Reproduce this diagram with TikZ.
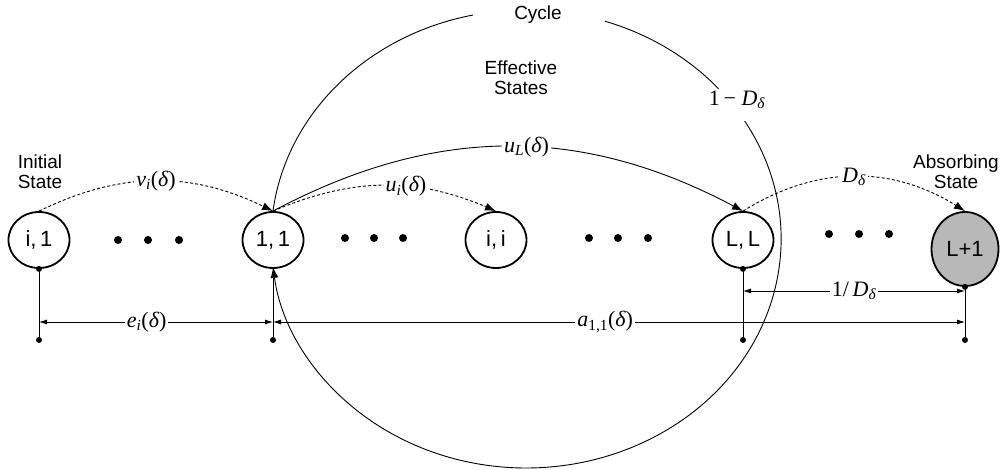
\documentclass[tikz,border=0pt]{standalone}
\usepackage{fontspec}
\setmainfont{Liberation Sans}
\newfontfamily\tms{Liberation Serif}
\usetikzlibrary{arrows.meta,shapes.geometric,calc}
\newcommand\mydel{{\upshape(}δ{\upshape)}}
\begin{document}
\begin{tikzpicture}[x=1pt,y=1pt,
  state/.style={ellipse, draw, line width=1.8pt, minimum width=61pt, minimum height=56pt, inner sep=0pt, font=\fontsize{22}{24}\selectfont},
  conn/.style={line width=0.9pt},
  dashconn/.style={conn, dash pattern=on 3pt off 2.2pt},
  tip/.style={-{Latex[length=11pt,width=8pt]}},
  lbl/.style={font=\fontsize{19}{20}\selectfont, align=center},
  mlbl/.style={font=\tms\itshape\fontsize{22}{24}\selectfont, fill=white, inner sep=2pt},
  bigdot/.style={circle, fill, inner sep=0pt, minimum size=8pt},
  smalldot/.style={circle, fill, inner sep=0pt, minimum size=6pt},
  dim/.style={line width=0.8pt, {Latex[length=8pt,width=5pt]}-{Latex[length=8pt,width=5pt]}},
  vline/.style={line width=0.8pt}
]
\useasboundingbox (0,0) rectangle (1001,470);

% states
\node[state] (i1) at (39,230) {i,\,1};
\node[state] (n11) at (273,230) {1,\,1};
\node[state] (ii) at (496,230) {i,\,i};
\node[state] (LL) at (743,230) {L,\,L};
\node[state, fill=black!28, minimum width=67pt, minimum height=74pt] (L1) at (965,221) {L+1};

% ellipsis dots
\foreach \x [count=\k] in {118,148,179} \node[bigdot] (da\k) at (\x,230) {};
\foreach \x [count=\k] in {345,374,403} \node[bigdot] (db\k) at (\x,232) {};
\foreach \x [count=\k] in {589,618,648} \node[bigdot] (dc\k) at (\x,232) {};
\foreach \x [count=\k] in {829,859,889} \node[bigdot] (dd\k) at (\x,236) {};

% bottom dots and verticals
\node[smalldot] (i1b) at (39,130) {};
\node[smalldot] (n11b) at (273,130) {};
\node[smalldot] (LLb) at (743,130) {};
\node[smalldot] (L1b) at (965,130) {};
\node[smalldot] (i1s) at (i1.south) {};
\node[smalldot] (LLs) at (LL.south) {};
\node[smalldot] (L1s) at (L1.south) {};
\draw[vline] (i1.south) -- (i1b);
\draw[vline] (n11.south) -- (n11b);
\draw[vline] (LL.south) -- (LLb);
\draw[vline] (L1.south) -- (L1b);

% dimension lines
\coordinate (ei1) at (39,148);
\coordinate (ei2) at (273,148);
\coordinate (a2) at (965,148);
\coordinate (dd1) at (743,179);
\coordinate (dd2) at (965,179);
\draw[dim] (ei1) -- node[mlbl, pos=0.46]{e\textsubscript{i}\mydel} (ei2);
\draw[dim] (ei2) -- node[mlbl, pos=0.48]{a\textsubscript{\upshape 1,1}\mydel} (a2);
\draw[dim] (dd1) -- node[mlbl]{{\upshape 1/}\,D\textsubscript{δ}} (dd2);

% cycle loop
\coordinate (C) at ($(n11.north)-(173:255 and 229)$);
\draw[conn] (n11.north) arc[start angle=173, end angle=102, x radius=255, y radius=229];
\draw[conn] ($(C)+(72:255 and 229)$) arc[start angle=72, end angle=41, x radius=255, y radius=229];
\draw[conn, tip] ($(C)+(31:255 and 229)$) arc[start angle=31, end angle=-173, x radius=255, y radius=229];

% transitions
\draw[dashconn, tip] (i1.north) to[bend left=26] node[mlbl, pos=0.5]{v\textsubscript{i}\mydel} (n11.north);
\draw[dashconn, tip] (n11.north) to[bend left=23] node[mlbl, pos=0.6]{u\textsubscript{i}\mydel} (ii.north);
\draw[conn, tip] (n11.north) to[bend left=28] node[mlbl, pos=0.54]{u\textsubscript{L}\mydel} (LL.north);
\draw[dashconn, tip] (LL.north) to[bend left=32] node[mlbl]{D\textsubscript{δ}} (L1.north);

% labels
\node[lbl] (cyc) at (538,455) {Cycle};
\node[font=\tms\fontsize{22}{24}\selectfont] (omd) at (737,370) {1\,− \textit{D}\textsubscript{\itshape δ}};
\node[lbl] (init) at (40,298) {Initial\\State};
\node[lbl] (abs) at (956,298) {Absorbing\\State};
\node[lbl] (eff) at (521,392) {Effective\\States};
\end{tikzpicture}
\end{document}
